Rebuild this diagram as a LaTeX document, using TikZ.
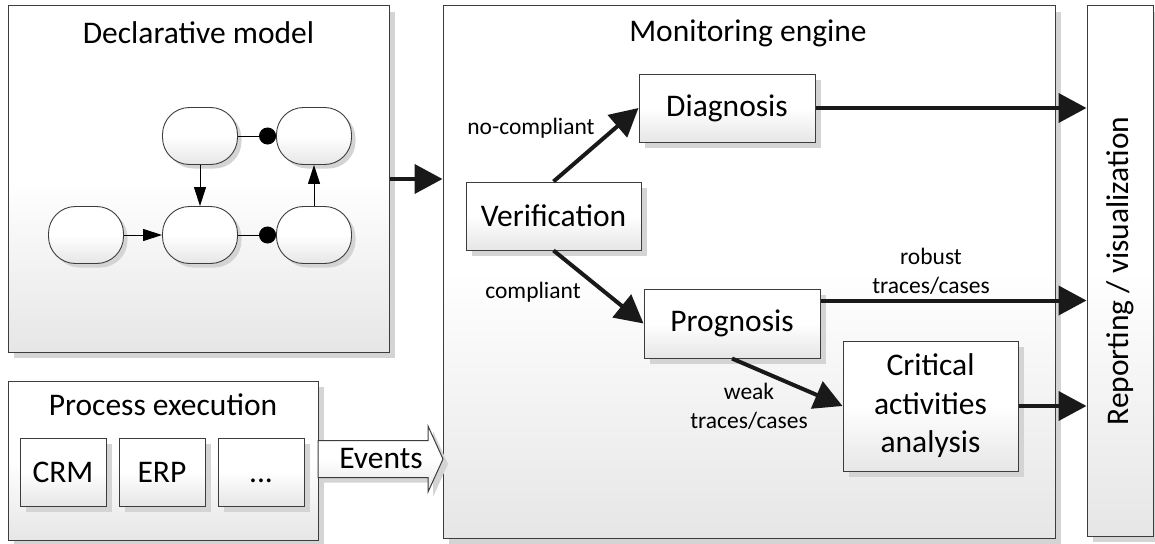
\documentclass[tikz,border=0pt]{standalone}
\usepackage{fontspec}
\setmainfont{Carlito}
\usetikzlibrary{arrows.meta,shadows,calc}

\definecolor{panelbot}{HTML}{E6E6E6}
\definecolor{edgegray}{HTML}{3C3C3C}
\definecolor{shadowgray}{HTML}{D4D4D4}
% white upper half, fading to light grey at the bottom
\pgfdeclareverticalshading{panelshade}{100bp}{color(0bp)=(panelbot); color(25bp)=(panelbot); color(50bp)=(white); color(100bp)=(white)}

\newcommand{\bigfont}{\fontsize{31.5}{38.5}\selectfont}
\newcommand{\smallfont}{\fontsize{23.5}{29}\selectfont}

\begin{document}
\begin{tikzpicture}[x=1pt,y=-1pt,
  panel/.style={draw=edgegray, line width=1pt, shading=panelshade, inner sep=0pt,
    drop shadow={shadow xshift=6pt, shadow yshift=-6pt, fill=shadowgray, opacity=1}},
  box/.style={panel, align=center, font=\bigfont, text=black},
  mnode/.style={draw=edgegray, line width=0.9pt, shading=panelshade, rounded corners=27pt,
    minimum width=75pt, minimum height=57pt, inner sep=0pt,
    drop shadow={shadow xshift=4pt, shadow yshift=-4pt, fill=shadowgray, opacity=1}},
  title/.style={font=\bigfont, text=black, inner sep=0pt},
  lbl/.style={font=\smallfont, text=black, align=center, inner sep=0pt},
  thin/.style={draw=black, line width=1pt, -{Triangle[length=19pt,width=12pt]}},
  dotted end/.style={draw=black, line width=1pt, -{Circle[length=17pt]}},
  flow/.style={draw=black!90, line width=4pt, -{Triangle[length=28pt,width=29pt]}}
]
\useasboundingbox (0,0) rectangle (1155,543);

% ---- outer panels
\node[panel, minimum width=381pt, minimum height=346pt] (decl) at (198.5,179) {};
\node[title] (decltitle) at (198.5,33) {Declarative model};

\node[panel, minimum width=612pt, minimum height=532pt] (mon) at (749,272) {};
\node[title] (montitle) at (748,33) {Monitoring engine};

\node[panel, minimum width=66pt, minimum height=530pt] (rep) at (1120,271) {};
\node[title, rotate=90] (reptext) at (rep.center) {Reporting / visualization};

\node[panel, minimum width=310pt, minimum height=159pt] (proc) at (163,460.5) {};
\node[title] (proctitle) at (163,405) {Process execution};

% ---- process sources
\node[box, minimum width=86pt, minimum height=68pt] (crm) at (63,472) {CRM};
\node[box, minimum width=86pt, minimum height=68pt] (erp) at (162,472) {ERP};
\node[box, minimum width=86pt, minimum height=68pt] (more) at (261,472) {\vphantom{CRM}...};

% ---- event stream arrow
\path[draw=edgegray, line width=1pt, shading=panelshade,
      drop shadow={shadow xshift=5pt, shadow yshift=-5pt, fill=shadowgray, opacity=1}]
  (318,440.5) -- (428,440.5) -- (428,426) -- (443,459) -- (428,492) -- (428,477.5) -- (318,477.5) -- cycle;
\node[title] (events) at (381,459) {Events};

% ---- declarative constraint model
\node[mnode] (a1) at (86,235) {};
\node[mnode] (a2) at (200,235) {};
\node[mnode] (a3) at (314,235) {};
\node[mnode] (b1) at (200,136) {};
\node[mnode] (b2) at (314,136) {};
\draw[thin] (a1) -- (a2);
\draw[thin] (b1) -- (a2);
\draw[thin] (a3) -- (b2);
\draw[dotted end] (b1) -- (b2);
\draw[dotted end] (a2) -- (a3);

% ---- monitoring steps
\node[box, minimum width=175pt, minimum height=68pt] (verif) at (553.5,216) {Verification};
\node[box, minimum width=176pt, minimum height=68pt] (diag) at (727,108) {Diagnosis};
\node[box, minimum width=176pt, minimum height=69pt] (prog) at (732,323.5) {Prognosis};
\node[box, minimum width=175pt, minimum height=130pt] (crit) at (930.5,406) {Critical\\activities\\analysis};

% ---- flows
\draw[flow] (decl.east) -- (decl.east -| mon.west);
\draw[flow] (verif.north) -- (diag.west);
\draw[flow] (verif.south) -- (prog.west);
\draw[flow] (diag.east) -- (diag.east -| rep.west);
\coordinate (progout) at ([yshift=-12pt]prog.north east);
\draw[flow] (progout) -- (progout -| rep.west);
\draw[flow] (prog.south) -- (crit.west);
\draw[flow] (crit.east) -- (crit.east -| rep.west);

% ---- flow labels
\node[lbl] (lnc) at (531,128) {no-compliant};
\node[lbl] (lc) at (533,292) {compliant};
\node[lbl] (lweak) at (749,406) {weak\\traces/cases};
\node[lbl] (lrob) at (931,271) {robust\\traces/cases};
\end{tikzpicture}
\end{document}
